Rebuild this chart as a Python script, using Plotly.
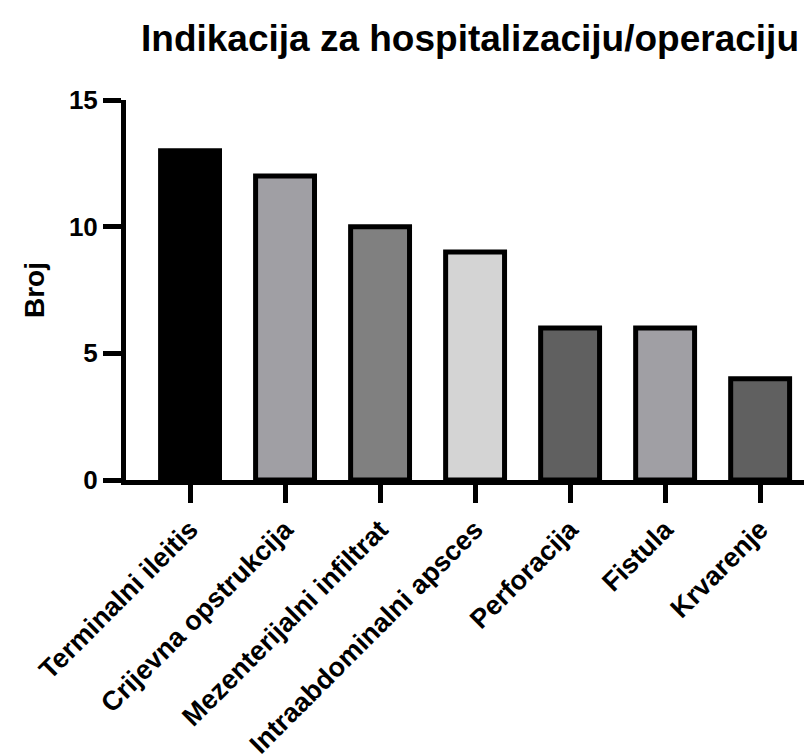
import plotly.graph_objects as go

categories = ["Terminalni ileitis", "Crijevna opstrukcija", "Mezenterijalni infiltrat",
              "Intraabdominalni apsces", "Perforacija", "Fistula", "Krvarenje"]
values = [13, 12, 10, 9, 6, 6, 4]
bar_colors = ["#000000", "#a09fa4", "#808080", "#d4d4d4", "#606060", "#a09fa4", "#606060"]
y_ticks = [0, 5, 10, 15]

FONT = "Liberation Sans, Arial, sans-serif"

fig = go.Figure(go.Bar(
    x=categories, y=values,
    marker=dict(color=bar_colors, line=dict(color="black", width=5)),
    width=0.62,
))

fig.update_layout(
    width=812, height=755,
    margin=dict(l=118, r=0, t=92, b=283),
    plot_bgcolor="white", paper_bgcolor="white",
    showlegend=False,
    font=dict(family=FONT, color="black"),
    title=dict(text="<b>Indikacija za hospitalizaciju/operaciju</b>",
               font=dict(size=37, family=FONT, color="black"),
               x=133/812, xanchor="left", xref="container",
               y=1-30/755, yanchor="middle", yref="container"),
)
fig.update_xaxes(
    range=[-0.674, 6.63],
    showline=True, linecolor="black", linewidth=5,
    ticks="outside", ticklen=18, tickwidth=5, tickcolor="black",
    tickangle=-45, tickfont=dict(size=27, family=FONT, color="black", weight="bold"),
    showgrid=False, zeroline=False,
)
fig.update_yaxes(
    range=[0, 15], tickvals=y_ticks,
    showline=True, linecolor="black", linewidth=5,
    ticks="outside", ticklen=18, tickwidth=5, tickcolor="black",
    tickfont=dict(size=26, family=FONT, color="black", weight="bold"),
    title=dict(text="<b>Broj</b>", font=dict(size=28, family=FONT, color="black"), standoff=18),
    showgrid=False, zeroline=False,
)

fig.write_html("out.html")
